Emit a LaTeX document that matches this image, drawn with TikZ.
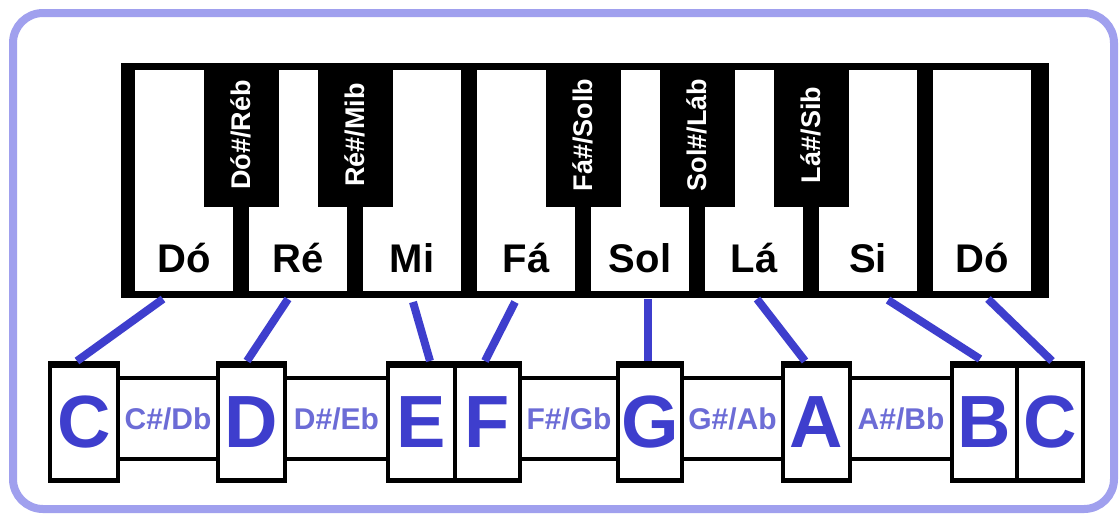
\documentclass[tikz,border=0pt]{standalone}
\usepackage{fontspec}
\setmainfont{Liberation Sans}
\usetikzlibrary{calc}
\definecolor{frameblue}{RGB}{160,160,238}
\definecolor{noteblue}{RGB}{62,62,205}
\definecolor{sharpblue}{RGB}{108,108,214}
\begin{document}
\begin{tikzpicture}[x=1pt,y=-1pt,
  whitekey/.style={fill=white, draw=none, minimum width=98pt, minimum height=221pt, inner sep=0pt, outer sep=0pt},
  blackkey/.style={fill=black, draw=none, minimum width=75pt, minimum height=144pt, inner sep=0pt, outer sep=0pt},
  keyname/.style={font=\fontsize{40}{40}\selectfont\bfseries, text=black, inner sep=0pt},
  bkname/.style={font=\fontsize{27}{27}\selectfont\bfseries, text=white, rotate=90, inner sep=0pt},
  letterbox/.style={draw=black, line width=3.5pt, fill=white, minimum height=118pt, inner sep=0pt, outer sep=0pt, text=noteblue, font=\fontsize{74}{74}\selectfont\bfseries},
  sharpbox/.style={draw=black, line width=3.5pt, fill=white, minimum height=81pt, inner sep=0pt, outer sep=0pt, text=sharpblue, font=\fontsize{30}{30}\selectfont\bfseries},
  conn/.style={draw=noteblue, line width=8pt},
  topbar/.style={line width=7pt, draw=black},
  botbar/.style={line width=5pt, draw=black},
]
\useasboundingbox (0,0) rectangle (1120,515);
\fill[white] (0,0) rectangle (1120,515);
% frame
\draw[frameblue, line width=8pt, rounded corners=30pt] (13,13) rectangle (1114,509);

% keyboard body
\node[fill=black, minimum width=928pt, minimum height=235pt, inner sep=0pt, outer sep=0pt] (kb) at (585,180.5) {};

% white keys
\node[whitekey] (w1) at (184,180.5) {};
\node[whitekey] (w2) at (298,180.5) {};
\node[whitekey] (w3) at (412,180.5) {};
\node[whitekey] (w4) at (526,180.5) {};
\node[whitekey] (w5) at (640,180.5) {};
\node[whitekey] (w6) at (754,180.5) {};
\node[whitekey] (w7) at (868,180.5) {};
\node[whitekey] (w8) at (982,180.5) {};

% black keys
\node[blackkey] (b1) at (241,135) {};
\node[blackkey] (b2) at (355,135) {};
\node[blackkey] (b3) at (583,135) {};
\node[blackkey] (b4) at (697,135) {};
\node[blackkey] (b5) at (811,135) {};

% white key names
\node[keyname] (t1) at (184,258) {Dó};
\node[keyname] (t2) at (298,258) {Ré};
\node[keyname] (t3) at (412,258) {Mi};
\node[keyname] (t4) at (526,258) {Fá};
\node[keyname] (t5) at (640,258) {Sol};
\node[keyname] (t6) at (754,258) {Lá};
\node[keyname] (t7) at (868,258) {Si};
\node[keyname] (t8) at (982,258) {Dó};

% black key names
\node[bkname] (n1) at (b1) {Dó\#/Réb};
\node[bkname] (n2) at (b2) {Ré\#/Mib};
\node[bkname] (n3) at (b3) {Fá\#/Solb};
\node[bkname] (n4) at (b4) {Sol\#/Láb};
\node[bkname] (n5) at (b5) {Lá\#/Sib};

% sharp boxes
\node[sharpbox, minimum width=100pt] (s1) at (168,418.5) {C\#/Db};
\node[sharpbox, minimum width=103pt] (s2) at (336.5,418.5) {D\#/Eb};
\node[sharpbox, minimum width=98pt] (s3) at (569,418.5) {F\#/Gb};
\node[sharpbox, minimum width=101pt] (s4) at (732.5,418.5) {G\#/Ab};
\node[sharpbox, minimum width=102pt] (s5) at (901,418.5) {A\#/Bb};
% re-center sharp texts within the visible parts
% letter boxes
\node[letterbox, minimum width=68pt] (lC) at (84,422) {C};
\node[letterbox, minimum width=67pt] (lD) at (251.5,422) {D};
\node[letterbox, minimum width=67pt] (lE) at (421.5,422) {E};
\node[letterbox, minimum width=65pt] (lF) at (487.5,422) {F};
\node[letterbox, minimum width=64pt] (lG) at (650,422) {G};
\node[letterbox, minimum width=67pt] (lA) at (816.5,422) {A};
\node[letterbox, minimum width=65pt] (lB) at (984.5,422) {B};
\node[letterbox, minimum width=66pt] (lC2) at (1050,422) {C};

\foreach \n in {lC,lD,lE,lF,lG,lA,lB,lC2}{
  \draw[topbar] ([yshift=-1.5pt]\n.north west) -- ([yshift=-1.5pt]\n.north east);
  \draw[botbar] ([yshift=1pt]\n.south west) -- ([yshift=1pt]\n.south east);
}

% connectors
\draw[conn] ($(w1.south)+(-21,8)$) -- ($(lC.north)+(-7,-2)$);
\draw[conn] ($(w2.south)+(-10,8)$) -- ($(lD.north)+(-4.5,-2)$);
\draw[conn] ($(w3.south)+(1,11)$) -- ($(lE.north)+(8.5,-2)$);
\draw[conn] ($(w4.south)+(-11,11)$) -- ($(lF.north)+(-2.5,-2)$);
\draw[conn] ($(w5.south)+(8,8)$) -- ($(lG.north)+(-2,-2)$);
\draw[conn] ($(w6.south)+(3,8)$) -- ($(lA.north)+(-11.5,-2)$);
\draw[conn] ($(w7.south)+(20,9)$) -- ($(lB.north)+(-4.5,-4)$);
\draw[conn] ($(w8.south)+(6,8)$) -- ($(lC2.north)+(2,-2)$);
\end{tikzpicture}
\end{document}
